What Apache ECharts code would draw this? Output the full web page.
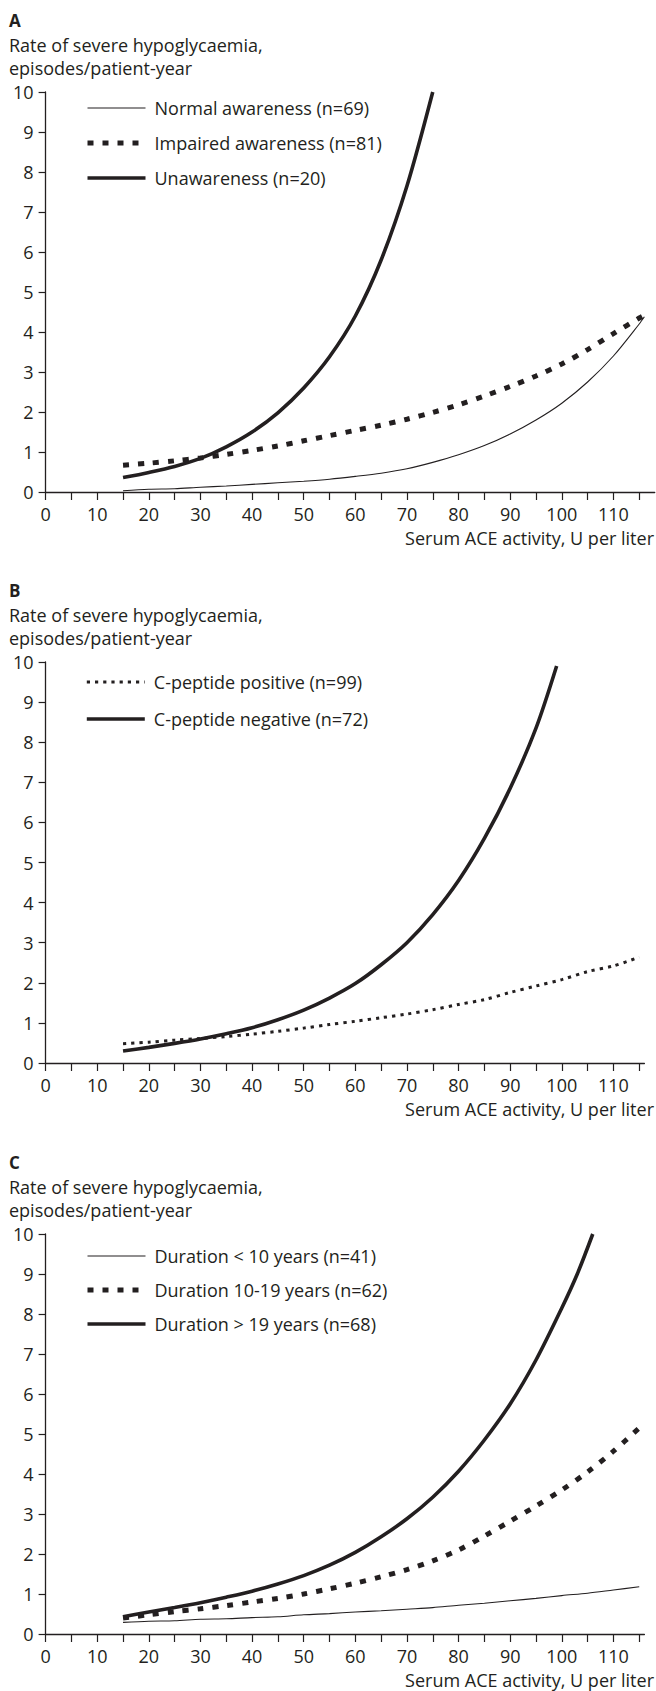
<!DOCTYPE html>
<html>
<head>
<meta charset="utf-8">
<script src="https://cdn.jsdelivr.net/npm/echarts@6/dist/echarts.min.js"></script>
<style>
  html, body { margin: 0; padding: 0; background: #ffffff; }
  #chart { width: 656px; height: 1691px; }
</style>
</head>
<body>
<div id="chart"></div>
<script>
// Serum ACE activity (U per liter) at which each curve is sampled
const aceA = [15, 20, 25, 30, 35, 40, 45, 50, 55, 60, 65, 70, 75, 80, 85, 90, 95, 100, 105, 110, 115, 116];
const aceAUnaware = [15, 20, 25, 30, 35, 40, 45, 50, 55, 60, 65, 70, 75];
const aceB = [15, 20, 25, 30, 35, 40, 45, 50, 55, 60, 65, 70, 75, 80, 85, 90, 95, 100, 105, 110, 115];
const aceBNegative = [15, 20, 25, 30, 35, 40, 45, 50, 55, 60, 65, 70, 75, 80, 85, 90, 95, 99];
const aceC = [15, 20, 25, 30, 35, 40, 45, 50, 55, 60, 65, 70, 75, 80, 85, 90, 95, 100, 105, 110, 115];
const aceCLong = [15, 20, 25, 30, 35, 40, 45, 50, 55, 60, 65, 70, 75, 80, 85, 90, 95, 100, 103, 106];

// Rate of severe hypoglycaemia, episodes/patient-year
// A: hypoglycaemia awareness
const normalAwareness = [0.03, 0.07, 0.08, 0.12, 0.15, 0.19, 0.23, 0.27, 0.32, 0.39, 0.47, 0.58, 0.74, 0.93, 1.16, 1.45, 1.8, 2.22, 2.75, 3.4, 4.2, 4.38];
const impairedAwareness = [0.67, 0.72, 0.78, 0.85, 0.94, 1.04, 1.15, 1.28, 1.41, 1.54, 1.67, 1.82, 1.99, 2.18, 2.4, 2.64, 2.9, 3.2, 3.56, 3.96, 4.35, 4.42];
const unawareness = [0.36, 0.49, 0.64, 0.84, 1.13, 1.5, 1.98, 2.6, 3.38, 4.4, 5.8, 7.65, 10.0];
// B: C-peptide status
const cPeptidePositive = [0.48, 0.52, 0.57, 0.61, 0.66, 0.72, 0.79, 0.87, 0.96, 1.04, 1.13, 1.22, 1.33, 1.46, 1.58, 1.76, 1.92, 2.08, 2.28, 2.42, 2.64];
const cPeptideNegative = [0.3, 0.39, 0.49, 0.6, 0.73, 0.88, 1.08, 1.32, 1.62, 1.98, 2.45, 3.0, 3.7, 4.55, 5.6, 6.85, 8.35, 9.9];
// C: diabetes duration
const durationUnder10 = [0.29, 0.32, 0.33, 0.37, 0.38, 0.41, 0.43, 0.48, 0.51, 0.55, 0.58, 0.62, 0.66, 0.72, 0.77, 0.83, 0.89, 0.96, 1.02, 1.1, 1.18];
const duration10to19 = [0.4, 0.48, 0.56, 0.63, 0.71, 0.8, 0.89, 1.0, 1.13, 1.27, 1.43, 1.61, 1.83, 2.1, 2.45, 2.82, 3.2, 3.6, 4.05, 4.57, 5.15];
const durationOver19 = [0.43, 0.55, 0.66, 0.78, 0.92, 1.07, 1.25, 1.46, 1.72, 2.04, 2.43, 2.88, 3.42, 4.07, 4.85, 5.75, 6.85, 8.15, 9.0, 10.0];

// Axis tick labels
const xTickValues = [0, 5, 10, 15, 20, 25, 30, 35, 40, 45, 50, 55, 60, 65, 70, 75, 80, 85, 90, 95, 100, 105, 110, 115];
const xLabelValues = [0, 10, 20, 30, 40, 50, 60, 70, 80, 90, 100, 110];
const yTitle = 'Rate of severe hypoglycaemia,\nepisodes/patient-year';
const xTitle = 'Serum ACE activity, U per liter';
const panelLetters = ['A', 'B', 'C'];
const legendA = ['Normal awareness (n=69)', 'Impaired awareness (n=81)', 'Unawareness (n=20)'];
const legendB = ['C-peptide positive (n=99)', 'C-peptide negative (n=72)'];
const legendC = ['Duration < 10 years (n=41)', 'Duration 10-19 years (n=62)', 'Duration > 19 years (n=68)'];

const INK = '#231f20';
const FONT = '"Open Sans", "Noto Sans", sans-serif';
const FS = 18;

const pairs = (xs, ys) => xs.map((x, i) => [x, ys[i]]);

// Line looks shared by the three panels
const thin = { color: INK, width: 1.1, type: 'solid' };
const squares = { color: INK, width: 5, type: [6, 9], cap: 'butt' };
const thick = { color: INK, width: 3.6, type: 'solid' };
const dots = { color: INK, width: 3, type: [3.2, 5], cap: 'butt' };

// Panel geometry (y = 10 row and y = 0 row in pixels, x-axis max)
const panels = [
  { top: 92, bottom: 492, xMax: 118, legendTop: 106, legendGap: 17 },
  { top: 662, bottom: 1063, xMax: 116, legendTop: 680, legendGap: 19 },
  { top: 1234, bottom: 1634, xMax: 116, legendTop: 1254, legendGap: 16 }
];
const X0 = 45.6, PX_PER_UNIT = 5.162, W = 656;

function line(name, idx, data, style) {
  return {
    name, type: 'line', xAxisIndex: idx, yAxisIndex: idx,
    data, showSymbol: false, symbol: 'none',
    smooth: 0.3,
    lineStyle: style, itemStyle: { color: INK },
    silent: true, animation: false
  };
}

const option = {
  backgroundColor: '#ffffff',
  animation: false,
  textStyle: { fontFamily: FONT, color: INK },
  title: panels.map((p, i) => ({
    text: panelLetters[i],
    subtext: yTitle,
    left: 9,
    top: p.top - 81.5,
    padding: 0,
    itemGap: 2.5,
    textStyle: { fontFamily: FONT, fontSize: 17, fontWeight: 'bold', color: INK, lineHeight: 20 },
    subtextStyle: { fontFamily: FONT, fontSize: FS, color: INK, lineHeight: 23.5 }
  })),
  legend: [legendA, legendB, legendC].map((names, i) => ({
    data: names,
    orient: 'vertical',
    left: 85,
    top: panels[i].legendTop - 7,
    itemWidth: 58,
    itemHeight: 14,
    itemGap: panels[i].legendGap,
    padding: 0,
    selectedMode: false,
    itemStyle: { opacity: 0 },
    lineStyle: { width: 'inherit', type: 'inherit', color: 'inherit' },
    textStyle: { fontFamily: FONT, fontSize: FS, color: INK, padding: [0, 0, 0, 4] }
  })),
  // x-axis title, right-aligned under each panel's axis
  graphic: panels.map(p => ({
    type: 'text',
    x: W - 2,
    y: p.bottom + 46,
    silent: true,
    style: {
      text: xTitle,
      align: 'right',
      verticalAlign: 'middle',
      fontFamily: FONT,
      fontSize: FS,
      fill: INK
    }
  })),
  grid: panels.map(p => ({
    left: X0,
    top: p.top,
    width: p.xMax * PX_PER_UNIT,
    height: p.bottom - p.top,
    containLabel: false,
    outerBoundsMode: 'none'
  })),
  xAxis: panels.map((p, i) => ({
    type: 'value', gridIndex: i, min: 0, max: p.xMax,
    axisLine: { show: true, onZero: false, lineStyle: { color: INK, width: 1.3 } },
    axisTick: { show: true, inside: false, length: 8, customValues: xTickValues, lineStyle: { color: INK, width: 1.2 } },
    axisLabel: { show: true, margin: 13, customValues: xLabelValues, fontFamily: FONT, fontSize: FS, color: INK },
    splitLine: { show: false }
  })),
  yAxis: panels.map((p, i) => ({
    type: 'value', gridIndex: i, min: 0, max: 10, interval: 1,
    axisLine: { show: true, onZero: false, lineStyle: { color: INK, width: 1.3 } },
    axisTick: { show: true, inside: false, length: 7, lineStyle: { color: INK, width: 1.2 } },
    axisLabel: { show: true, margin: 12, fontFamily: FONT, fontSize: FS, color: INK },
    splitLine: { show: false }
  })),
  series: [
    line(legendA[0], 0, pairs(aceA, normalAwareness), thin),
    line(legendA[1], 0, pairs(aceA, impairedAwareness), squares),
    line(legendA[2], 0, pairs(aceAUnaware, unawareness), thick),
    line(legendB[0], 1, pairs(aceB, cPeptidePositive), dots),
    line(legendB[1], 1, pairs(aceBNegative, cPeptideNegative), thick),
    line(legendC[0], 2, pairs(aceC, durationUnder10), thin),
    line(legendC[1], 2, pairs(aceC, duration10to19), squares),
    line(legendC[2], 2, pairs(aceCLong, durationOver19), thick)
  ]
};

const chart = echarts.init(document.getElementById('chart'), null, { renderer: 'svg', width: 656, height: 1691 });
chart.setOption(option);
</script>
</body>
</html>
